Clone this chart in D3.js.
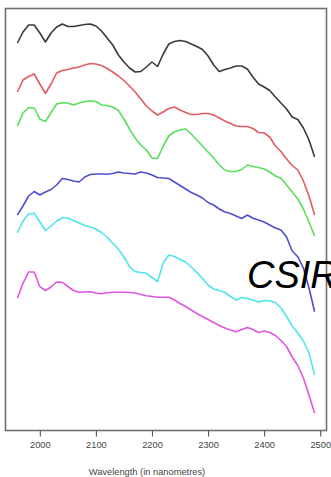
<!DOCTYPE html>
<html>
<head>
<meta charset="utf-8">
<script src="https://cdn.jsdelivr.net/npm/d3@7"></script>
<style>
  html, body { margin: 0; padding: 0; background: #fff; overflow: hidden; }
  svg { display: block; }
</style>
</head>
<body>
<svg id="chart" width="331" height="477"></svg>
<script>
// Wavelength grid (nm)
const wavelengths = d3.range(1960, 2491, 10);
const xTicks = [2000, 2100, 2200, 2300, 2400, 2500];
const xTitle = "Wavelength (in nanometres)";
const watermark = "CSIR";

// Offset reflectance spectra (arbitrary units), one value per wavelength
const blackSeries = [3.87,3.98,4.05,4.05,3.97,3.88,3.97,4.03,4.06,4.035,4.035,4.045,4.055,4.06,4.04,3.99,3.92,3.85,3.75,3.68,3.62,3.58,3.585,3.63,3.68,3.635,3.76,3.86,3.885,3.895,3.885,3.86,3.835,3.805,3.74,3.65,3.585,3.605,3.62,3.64,3.64,3.61,3.53,3.46,3.43,3.395,3.33,3.27,3.21,3.13,3.105,3.02,2.90,2.73];
const redSeries = [3.38,3.50,3.535,3.56,3.46,3.365,3.46,3.57,3.595,3.605,3.62,3.63,3.65,3.665,3.66,3.645,3.615,3.58,3.54,3.495,3.44,3.38,3.31,3.24,3.19,3.15,3.18,3.215,3.23,3.20,3.175,3.155,3.155,3.165,3.165,3.15,3.12,3.09,3.065,3.04,3.035,3.035,3.015,2.975,2.97,2.93,2.84,2.785,2.71,2.645,2.60,2.49,2.34,2.15];
const greenSeries = [3.04,3.17,3.225,3.22,3.11,3.085,3.175,3.26,3.273,3.27,3.25,3.27,3.285,3.29,3.285,3.25,3.245,3.23,3.195,3.11,3.01,2.92,2.85,2.80,2.72,2.715,2.84,2.94,2.983,3.00,3.01,2.96,2.90,2.84,2.78,2.72,2.65,2.60,2.585,2.585,2.605,2.65,2.635,2.625,2.61,2.58,2.54,2.517,2.45,2.38,2.31,2.21,2.08,1.94];
const blueSeries = [2.15,2.24,2.34,2.385,2.35,2.38,2.405,2.45,2.515,2.505,2.49,2.48,2.53,2.555,2.56,2.56,2.558,2.565,2.58,2.57,2.565,2.56,2.58,2.57,2.55,2.525,2.52,2.515,2.48,2.445,2.41,2.375,2.35,2.32,2.275,2.25,2.21,2.18,2.165,2.14,2.115,2.15,2.117,2.10,2.08,2.05,2.02,2.00,1.93,1.79,1.733,1.62,1.42,1.183];
const cyanSeries = [1.97,2.09,2.16,2.167,2.083,1.995,2.04,2.09,2.12,2.12,2.095,2.07,2.045,2.03,2.01,1.975,1.93,1.867,1.81,1.73,1.633,1.585,1.575,1.567,1.525,1.483,1.67,1.75,1.735,1.705,1.68,1.63,1.575,1.515,1.45,1.41,1.395,1.375,1.335,1.30,1.325,1.315,1.30,1.28,1.295,1.292,1.275,1.22,1.135,1.04,0.97,0.89,0.77,0.55];
const magentaSeries = [1.32,1.467,1.58,1.58,1.433,1.395,1.43,1.48,1.477,1.435,1.395,1.377,1.38,1.383,1.37,1.362,1.373,1.377,1.377,1.377,1.375,1.37,1.355,1.343,1.335,1.328,1.327,1.327,1.30,1.265,1.235,1.20,1.165,1.135,1.105,1.075,1.045,1.02,1.00,0.983,1.005,1.025,1.005,0.975,0.99,0.975,0.945,0.895,0.835,0.73,0.645,0.52,0.35,0.167];

const seriesList = [
  {name: "black", values: blackSeries, color: "#2e2e2e"},
  {name: "red", values: redSeries, color: "#e2515a"},
  {name: "green", values: greenSeries, color: "#52dc52"},
  {name: "blue", values: blueSeries, color: "#4545cc"},
  {name: "cyan", values: cyanSeries, color: "#45e3ea"},
  {name: "magenta", values: magentaSeries, color: "#e04be0"}
];

const svg = d3.select("#chart");
const box = {left: 5.5, right: 326.5, top: 8.5, bottom: 430.5};

const xPad = (2490 - 1960) * 0.04;
const x = d3.scaleLinear().domain([1960 - xPad, 2490 + xPad]).range([box.left, box.right]);
const y = d3.scaleLinear().domain([0, 4.22]).range([430, 8]);

const line = d3.line()
  .x((d, i) => x(wavelengths[i]))
  .y(d => y(d));

svg.append("g").selectAll("path")
  .data(seriesList)
  .join("path")
  .attr("d", d => line(d.values))
  .attr("fill", "none")
  .attr("stroke", d => d.color)
  .attr("stroke-width", 1.6)
  .attr("stroke-linejoin", "round")
  .attr("stroke-opacity", 0.95);

// Plot frame
svg.append("rect")
  .attr("x", box.left).attr("y", box.top)
  .attr("width", box.right - box.left).attr("height", box.bottom - box.top)
  .attr("fill", "none").attr("stroke", "#6f6f6f").attr("stroke-width", 1.6);

// X axis
const xAxis = d3.axisBottom(x).tickValues(xTicks).tickSize(6).tickPadding(5).tickFormat(d3.format("d"));
const gx = svg.append("g").attr("transform", `translate(0,${box.bottom})`).call(xAxis);
gx.select(".domain").remove();
gx.selectAll(".tick line").attr("stroke", "#555").attr("stroke-width", 1.1);
gx.selectAll(".tick text")
  .attr("fill", "#444")
  .attr("font-family", "Liberation Sans, Arial, sans-serif")
  .attr("font-size", "9.3px");

svg.append("text")
  .attr("x", (x(2000) + x(2400)) / 2 - 5)
  .attr("y", 475)
  .attr("text-anchor", "middle")
  .attr("fill", "#444")
  .attr("font-family", "Liberation Sans, Arial, sans-serif")
  .attr("font-size", "9.3px")
  .text(xTitle);

svg.append("text")
  .attr("x", 247)
  .attr("y", 288)
  .attr("fill", "#000")
  .attr("font-family", "Liberation Sans, Arial, sans-serif")
  .attr("font-style", "italic")
  .attr("font-size", "38px")
  .text(watermark);
</script>
</body>
</html>
